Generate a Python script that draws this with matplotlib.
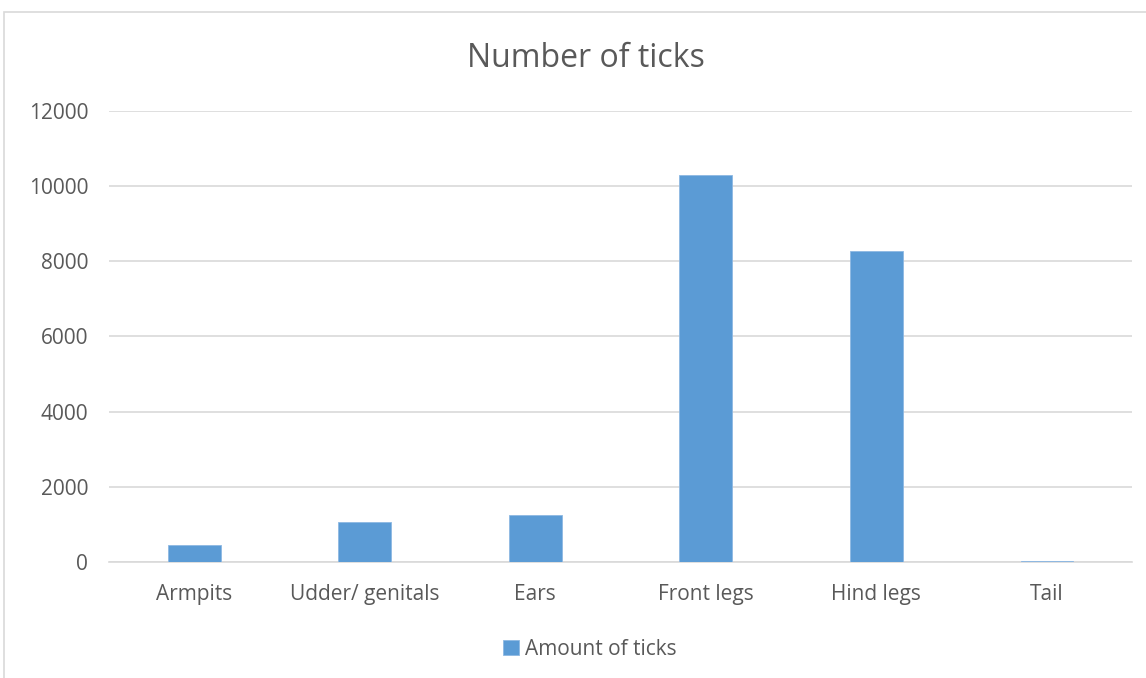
import matplotlib
matplotlib.use("Agg")
import matplotlib.pyplot as plt
from matplotlib.patches import Rectangle

categories = ["Armpits", "Udder/ genitals", "Ears", "Front legs", "Hind legs", "Tail"]
amounts = [455, 1070, 1240, 10290, 8270, 25]
y_ticks = [0, 2000, 4000, 6000, 8000, 10000, 12000]

bar_color = "#5b9bd5"
text_color = "#595959"
grid_color = "#d9d9d9"

plt.rcParams['font.family'] = ['Open Sans', 'DejaVu Sans']

fig = plt.figure(figsize=(11.46, 6.78), dpi=100)
ax = fig.add_axes([0.0951, 0.1711, 0.8929, 0.6652])

# chart frame like the spreadsheet export
fig.patches.append(Rectangle((0.0035, -0.01), 1.1, 0.992, transform=fig.transFigure,
                             fill=False, edgecolor="#d9d9d9", linewidth=1.2))

x = range(len(categories))
ax.bar(x, amounts, width=0.31, color=bar_color, edgecolor="#8db8e3", linewidth=0.6,
       label="Amount of ticks", zorder=3)

ax.set_xlim(-0.5, len(categories) - 0.5)
ax.set_ylim(0, 12000)
ax.set_yticks(y_ticks)
ax.set_yticklabels([str(v) for v in y_ticks])
ax.set_xticks(list(x))
ax.set_xticklabels(categories)
ax.yaxis.grid(True, color=grid_color, linewidth=1.2, zorder=0)
ax.tick_params(axis="both", length=0, labelsize=15, labelcolor=text_color)
ax.tick_params(axis="x", pad=16)
ax.tick_params(axis="y", pad=15)
for s in ["top", "right", "left"]:
    ax.spines[s].set_visible(False)
ax.spines["bottom"].set_color(grid_color)
ax.spines["bottom"].set_linewidth(1.2)

fig.text(0.511, 0.913, "Number of ticks", ha="center", va="center", fontsize=23, color=text_color)

leg = fig.legend(loc="center", bbox_to_anchor=(0.515, 0.042), frameon=False, fontsize=15,
                 handlelength=0.75, handleheight=0.75, handletextpad=0.3)
for t in leg.get_texts():
    t.set_color(text_color)

fig.savefig("out.png", dpi=100)
